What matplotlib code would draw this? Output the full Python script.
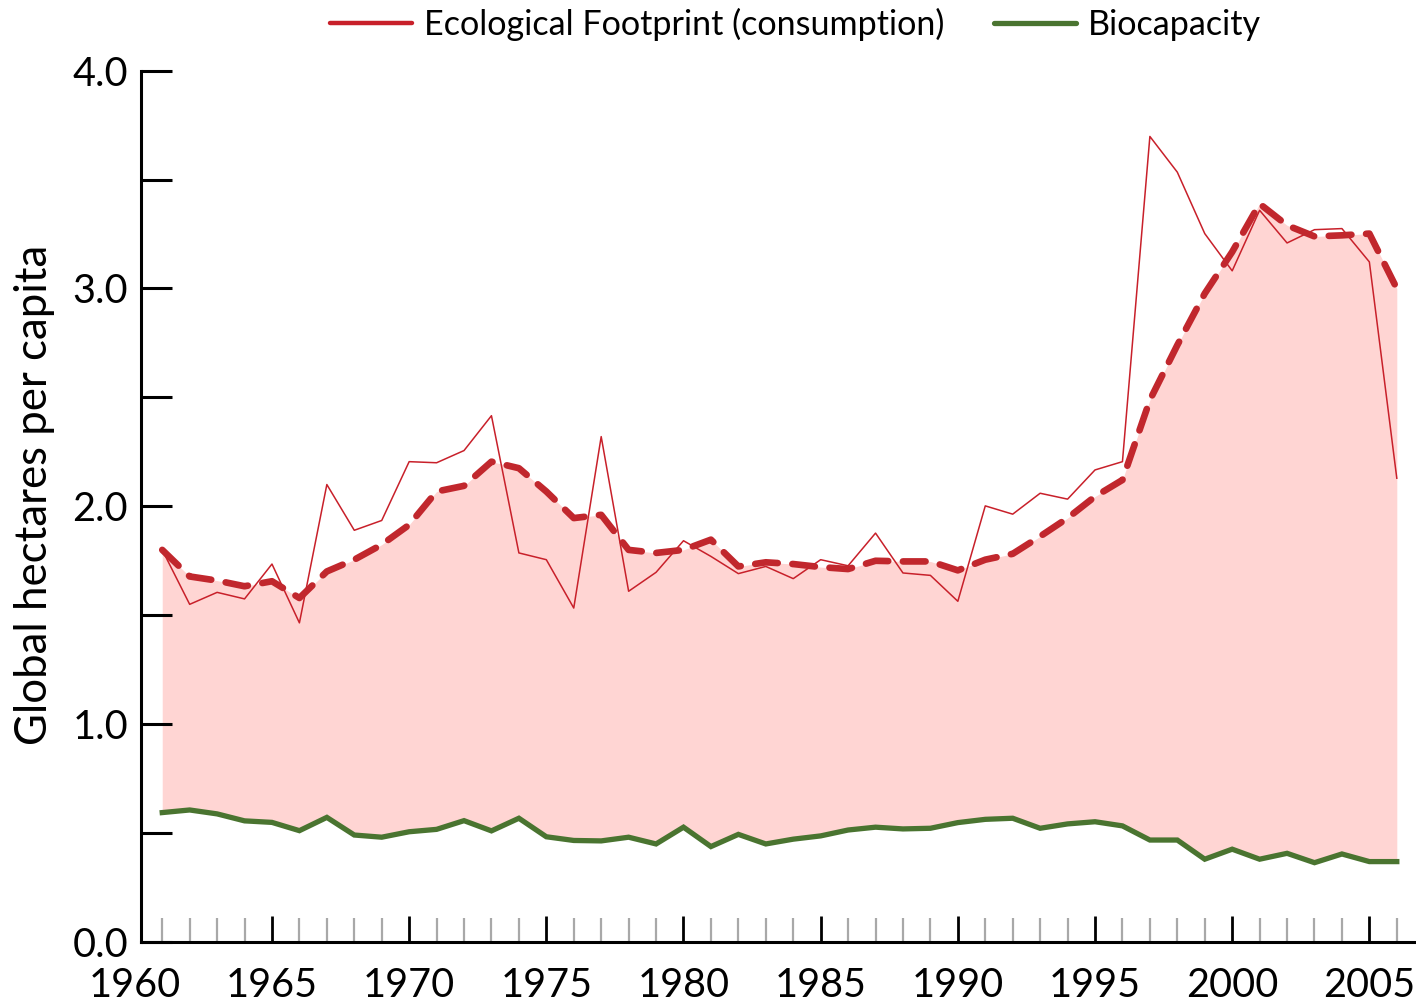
import matplotlib
matplotlib.use("Agg")
import matplotlib.pyplot as plt
from matplotlib.lines import Line2D
from matplotlib.ticker import FixedLocator, FormatStrFormatter

# -----------------------------
# Data (global hectares per capita)
# -----------------------------
years = list(range(1961, 2007))

footprint = [1.80, 1.55, 1.605, 1.575, 1.735, 1.465, 2.10, 1.89, 1.935, 2.205,
             2.20, 2.256, 2.416, 1.786, 1.755, 1.533, 2.32, 1.61, 1.697, 1.842,
             1.77, 1.691, 1.724, 1.668, 1.755, 1.727, 1.877, 1.694, 1.683, 1.564,
             2.002, 1.964, 2.06, 2.033, 2.167, 2.205, 3.698, 3.534, 3.252, 3.081,
             3.359, 3.209, 3.27, 3.275, 3.122, 2.129]

footprint_trend = [1.80, 1.678, 1.659, 1.633, 1.656, 1.579, 1.701, 1.755, 1.824, 1.915,
                   2.068, 2.094, 2.205, 2.175, 2.068, 1.946, 1.961, 1.80, 1.786, 1.80,
                   1.847, 1.724, 1.743, 1.735, 1.721, 1.712, 1.75, 1.747, 1.747, 1.706,
                   1.755, 1.782, 1.862, 1.946, 2.045, 2.121, 2.488, 2.74, 2.977, 3.168,
                   3.389, 3.29, 3.239, 3.244, 3.252, 3.0]

biocapacity = [0.594, 0.606, 0.588, 0.556, 0.549, 0.511, 0.572, 0.491, 0.481, 0.506,
               0.517, 0.557, 0.510, 0.568, 0.483, 0.466, 0.464, 0.481, 0.450, 0.527,
               0.438, 0.494, 0.450, 0.472, 0.487, 0.514, 0.527, 0.519, 0.522, 0.548,
               0.563, 0.568, 0.522, 0.542, 0.552, 0.533, 0.468, 0.468, 0.380, 0.426,
               0.380, 0.407, 0.364, 0.404, 0.369, 0.369]

major_years = [1960, 1965, 1970, 1975, 1980, 1985, 1990, 1995, 2000, 2005]
minor_years = [y for y in years if y % 5 != 0]

RED = "#c8202a"
DASH_RED = "#c1272d"
FILL = "#ffd5d3"
GREEN = "#4a7430"

plt.rcParams["font.family"] = ["Lato", "DejaVu Sans"]

# -----------------------------
# Figure
# -----------------------------
fig = plt.figure(figsize=(14.16, 10.08), dpi=100)
ax = fig.add_axes([0.0952, 0.0655, 0.9048, 0.8644])

ax.fill_between(years, biocapacity, footprint_trend, color=FILL, lw=0, zorder=1)
ax.plot(years, footprint, color=RED, lw=1.1, zorder=3)
ax.plot(years, footprint_trend, color=DASH_RED, lw=4.8, ls=(0, (3.4, 2.2)),
        dash_capstyle="round", zorder=4)
ax.plot(years, biocapacity, color=GREEN, lw=3.8, solid_joinstyle="miter", zorder=3)

ax.set_xlim(1960, 2006.7)
ax.set_ylim(0, 4)

# axes look: left spine sits a little after 1960
for side in ["top", "right"]:
    ax.spines[side].set_visible(False)
ax.spines["left"].set_position(("data", 1960.21))
ax.spines["bottom"].set_bounds(1960.21, 2006.7)
ax.spines["left"].set_linewidth(2.2)
ax.spines["bottom"].set_linewidth(2.2)

ax.yaxis.set_major_locator(FixedLocator([0, 1, 2, 3, 4]))
ax.yaxis.set_minor_locator(FixedLocator([0.5, 1.5, 2.5, 3.5]))
ax.yaxis.set_major_formatter(FormatStrFormatter("%.1f"))
ax.tick_params(axis="y", which="both", direction="in", length=22, width=2.2,
               color="black", labelsize=28.5, pad=9)

ax.xaxis.set_major_locator(FixedLocator(major_years))
ax.xaxis.set_minor_locator(FixedLocator(minor_years))
ax.tick_params(axis="x", which="major", direction="in", length=19, width=2,
               color="black", labelsize=28.5, pad=18)
ax.tick_params(axis="x", which="minor", direction="in", length=17, width=1.6,
               color="#a8a8a8")
ax.xaxis.get_major_ticks()[0].tick1line.set_visible(False)

ax.set_ylabel("Global hectares per capita", fontsize=31.5, va="center")
ax.yaxis.set_label_coords(-0.078, 0.513)

# legend on top
handles = [Line2D([], [], color=RED, lw=3.2, solid_capstyle="round"),
           Line2D([], [], color=GREEN, lw=3.8, solid_capstyle="round")]
fig.legend(handles, ["Ecological Footprint (consumption)", "Biocapacity"],
           loc="center", bbox_to_anchor=(0.5618, 0.976), ncol=2, frameon=False,
           fontsize=24.6, handlelength=2.4, handletextpad=0.35, columnspacing=1.46)

fig.savefig("out.png", dpi=100)
